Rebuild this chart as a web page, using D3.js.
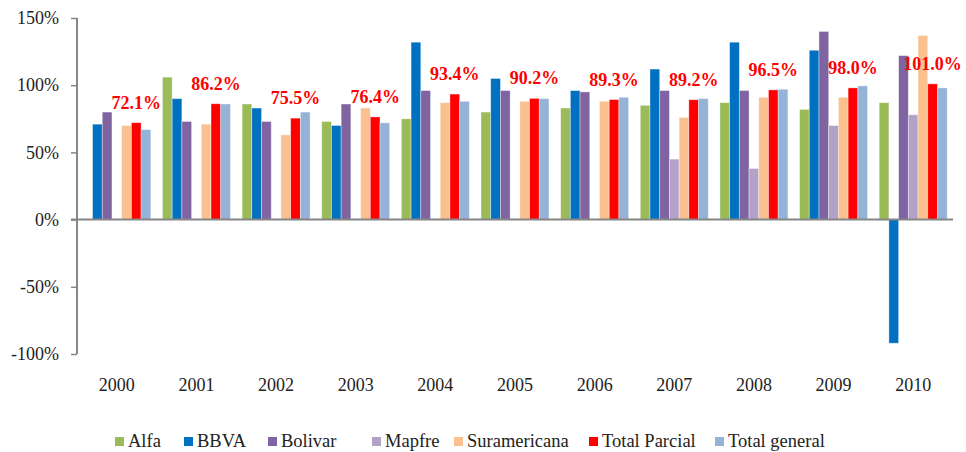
<!DOCTYPE html>
<html>
<head>
<meta charset="utf-8">
<script src="https://cdn.jsdelivr.net/npm/d3@7"></script>
<style>
  body { margin: 0; background: #fff; }
  svg text { font-family: "Liberation Serif", serif; fill: #222; }
</style>
</head>
<body>
<div id="chart"></div>
<script>
// Data (percent values)
const years = ['2000', '2001', '2002', '2003', '2004', '2005', '2006', '2007', '2008', '2009', '2010'];
const seriesNames = ['Alfa', 'BBVA', 'Bolivar', 'Mapfre', 'Suramericana', 'Total Parcial', 'Total general'];
const alfa = [null, 106, 86, 73, 75, 80, 83, 85, 87, 82, 87];
const bbva = [71, 90, 83, 70, 132, 105, 96, 112, 132, 126, -92];
const bolivar = [80, 73, 73, 86, 96, 96, 95, 96, 96, 140, 122];
const mapfre = [null, null, null, null, null, null, null, 45, 38, 70, 78];
const suramericana = [70, 71, 63, 83, 87, 88, 88, 76, 91, 91, 137];
const totalParcial = [72.1, 86.2, 75.5, 76.4, 93.4, 90.2, 89.3, 89.2, 96.5, 98.0, 101.0];
const totalGeneral = [67, 86, 80, 72, 88, 90, 91, 90, 97, 99.5, 98];
const yTicks = [-100, -50, 0, 50, 100, 150];

const colors = ['#9BBB59', '#0070C0', '#8064A2', '#B3A2C7', '#FAC090', '#FF0000', '#95B3D7'];
const allSeries = [alfa, bbva, bolivar, mapfre, suramericana, totalParcial, totalGeneral];

let
w = 966,
h = 452,
plotL = 77, // x of the vertical axis
plotR = 953, // end of the zero line
plotT = 18,
plotB = 354;

const svg = d3.select('#chart').append('svg').attr('width', w).attr('height', h);

const x0 = d3.scaleBand().domain(years).range([plotL, plotR]).padding(0);
const x1 = d3.scaleBand().domain(seriesNames).range([0, x0.bandwidth()]).paddingOuter(0.6).paddingInner(0);
const y = d3.scaleLinear().domain([-100, 150]).range([plotB, plotT]);
const color = d3.scaleOrdinal().domain(seriesNames).range(colors);

// Flatten into bar records
const bars = [];
years.forEach((yr, i) => {
  seriesNames.forEach((s, j) => {
    const v = allSeries[j][i];
    if (v !== null) bars.push({year: yr, series: s, value: v});
  });
});

// Bars
svg.append('g').selectAll('rect').data(bars).enter().append('rect').
attr('x', d => x0(d.year) + x1(d.series)).
attr('y', d => y(Math.max(0, d.value))).
attr('width', x1.bandwidth()).
attr('height', d => Math.abs(y(d.value) - y(0))).
attr('fill', d => color(d.series)).
attr('stroke', 'rgba(255,255,255,0.45)').
attr('stroke-width', 0.8);

// Y axis
const yAxis = svg.append('g').
attr('transform', 'translate(' + plotL + ',0)').
call(d3.axisLeft(y).tickValues(yTicks).tickFormat(d => d + '%').tickSize(6).tickPadding(12));
yAxis.select('.domain').attr('stroke', '#868686').attr('stroke-width', 2).attr('d', 'M0,' + plotT + 'V' + plotB);
yAxis.selectAll('.tick line').attr('stroke', '#868686').attr('stroke-width', 1.5);
yAxis.selectAll('.tick text').style('font-size', '18px').attr('fill', '#222');

// Zero line
svg.append('line').
attr('x1', plotL - 6).attr('x2', plotR).
attr('y1', y(0)).attr('y2', y(0)).
attr('stroke', '#868686').attr('stroke-width', 2);

// Year labels (low position)
svg.append('g').selectAll('text').data(years).enter().append('text').
attr('x', d => x0(d) + x0.bandwidth() / 2).
attr('y', 391).
attr('text-anchor', 'middle').
style('font-size', '18px').
text(d => d);

// Total Parcial value labels
svg.append('g').selectAll('text').data(totalParcial).enter().append('text').
attr('x', (d, i) => x0(years[i]) + x1('Total Parcial') + x1.bandwidth() / 2).
attr('y', d => y(d) - 14).
attr('text-anchor', 'middle').
style('font-size', '18px').
style('font-weight', 'bold').
style('fill', '#FF0000').
text(d => d.toFixed(1) + '%');

// Legend
const legendX = [115, 184, 268, 372, 454, 589, 715];
const legend = svg.append('g');
seriesNames.forEach((s, i) => {
  legend.append('rect').
  attr('x', legendX[i]).attr('y', 437).
  attr('width', 9).attr('height', 9).
  attr('fill', color(s));
  legend.append('text').
  attr('x', legendX[i] + 13).attr('y', 447).
  style('font-size', '18.5px').
  text(s);
});
</script>
</body>
</html>
